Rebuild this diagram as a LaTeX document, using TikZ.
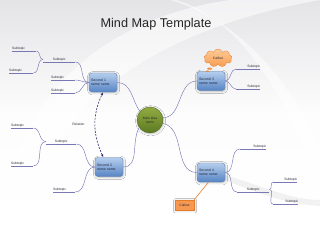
\documentclass[tikz,border=0pt]{standalone}
\usepackage{fontspec}
\setmainfont{Liberation Sans}
\usetikzlibrary{
    arrows.meta,
    positioning,
    shapes.geometric,
    shapes.symbols,
    shapes.callouts,
    shadows.blur
}
\definecolor{ink}{RGB}{40,40,55}
\definecolor{paper}{RGB}{228,228,231}
\definecolor{branch}{RGB}{122,120,180}
\definecolor{boxtop}{RGB}{182,206,238}
\definecolor{boxbot}{RGB}{86,132,196}
\definecolor{boxline}{RGB}{96,126,174}
\definecolor{ideatop}{RGB}{146,172,66}
\definecolor{ideabot}{RGB}{92,122,34}
\definecolor{idealine}{RGB}{78,100,30}
\definecolor{calltop}{RGB}{253,204,150}
\definecolor{callbot}{RGB}{246,142,62}
\definecolor{callline}{RGB}{228,124,44}
\definecolor{relink}{RGB}{46,46,112}
\tikzset{
    line cap=round,
    line join=round,
    pop/.style={
        blur shadow={shadow blur steps=4, shadow xshift=0.6pt, shadow yshift=-0.8pt, shadow opacity=25}
    },
    title/.style={
        font=\fontsize{12.7}{15}\selectfont,
        text=black!85
    },
    idea/.style={
        circle,
        draw=idealine,
        line width=0.4pt,
        top color=ideatop,
        bottom color=ideabot,
        minimum size=26pt,
        inner sep=0pt,
        align=center,
        font=\fontsize{3.3}{4}\selectfont,
        text=ink,
        pop
    },
    second/.style={
        rectangle,
        rounded corners=3pt,
        draw=boxline,
        line width=0.4pt,
        top color=boxtop,
        bottom color=boxbot,
        minimum width=28pt,
        minimum height=19pt,
        text width=24pt,
        inner sep=1.5pt,
        align=left,
        font=\fontsize{3.5}{4.3}\selectfont,
        text=ink,
        pop
    },
    sub/.style={
        font=\fontsize{3.3}{4}\selectfont,
        text=ink,
        inner xsep=0pt,
        inner ysep=0.7pt
    },
    lsub/.style={sub, text width=#1, align=left},
    rsub/.style={sub, text width=#1, align=right},
    msub/.style={sub, text width=#1, align=center},
    link/.style={
        draw=branch,
        line width=0.45pt
    },
    relation/.style={
        {Latex[length=3pt,width=2.6pt]}-{Latex[length=3pt,width=2.6pt]},
        draw=relink,
        dash pattern=on 2pt off 1.3pt,
        line width=0.6pt
    },
    cloudbox/.style={
        cloud callout,
        cloud puffs=9,
        aspect=1.5,
        draw=callline,
        line width=0.3pt,
        top color=calltop,
        bottom color=callbot,
        minimum width=28pt,
        minimum height=18pt,
        inner sep=0pt,
        font=\fontsize{3.3}{4}\selectfont,
        text=ink
    },
    notebox/.style={
        rectangle,
        draw=callline,
        line width=0.3pt,
        fill=callbot!90!white,
        minimum width=19pt,
        minimum height=10pt,
        inner sep=0pt,
        font=\fontsize{3.3}{4}\selectfont,
        text=ink,
        pop
    },
    notelink/.style={
        draw=callline,
        line width=0.6pt
    },
    annot/.style={
        font=\fontsize{3.3}{4}\selectfont,
        text=ink
    }
}
\begin{document}
\begin{tikzpicture}[x=1pt, y=1pt]
\useasboundingbox (0,0) rectangle (320,-227);

% background with soft swooshes
\shade[top color=paper, bottom color=white, middle color=white!92!paper] (0,0) rectangle (320,-227);
\fill[white, opacity=0.55] (0,-227) .. controls (10,-110) and (90,-20) .. (230,0) -- (320,0)
    .. controls (150,-30) and (40,-110) .. (30,-227) -- cycle;
\fill[white, opacity=0.5] (120,0) .. controls (230,30) and (300,-120) .. (320,-200) -- (320,-150)
    .. controls (290,-80) and (240,-20) .. (170,0) -- cycle;
\fill[black, opacity=0.05] (225,-175) .. controls (260,-185) and (290,-200) .. (320,-200) -- (320,-206)
    .. controls (285,-204) and (255,-192) .. (225,-180) -- cycle;

% title
\node[title] (head) at (156,-24) {Mind Map Template};

% main idea and second level
\node[idea] (main) at (150,-120) {Main Idea\\name};
\node[second] (s1) at (103,-82.5) {Second 1\\name name};
\node[second] (s2) at (109,-167) {Second 2\\name name};
\node[second] (s3) at (211,-81) {Second 3\\name name};
\node[second] (s4) at (211,-172.5) {Second 4\\name name};

\draw[link] (main.140) to[out=125, in=0] (s1.east);
\draw[link] (main.215) to[out=240, in=0] (s2.east);
\draw[link] (main.10) to[out=0, in=180] (s3.west);
\draw[link] (main.-15) to[out=-10, in=180] (s4.west);

% subtopics, left side
\node[msub=32pt, anchor=south west] (t11) at (43,-62) {Subtopic};
\node[lsub=24pt, anchor=south west] (t12) at (51,-80) {Subtopic};
\node[lsub=24pt, anchor=south west] (t13) at (51,-93) {Subtopic};
\node[lsub=24pt, anchor=south west] (t111) at (12,-51) {Subtopic};
\node[lsub=24pt, anchor=south west] (t112) at (9,-73) {Subtopic};
\node[msub=30pt, anchor=south west] (t21) at (46,-144) {Subtopic};
\node[lsub=22pt, anchor=south west] (t22) at (53,-192) {Subtopic};
\node[lsub=22pt, anchor=south west] (t211) at (11,-128) {Subtopic};
\node[lsub=22pt, anchor=south west] (t212) at (11,-166) {Subtopic};

% subtopics, right side
\node[rsub=24pt, anchor=south west] (t31) at (236,-69) {Subtopic};
\node[rsub=24pt, anchor=south west] (t32) at (236,-89) {Subtopic};
\node[rsub=26pt, anchor=south west] (t41) at (240,-149) {Subtopic};
\node[msub=32pt, anchor=south west] (t42) at (237,-192) {Subtopic};
\node[rsub=24pt, anchor=south west] (t421) at (273,-182) {Subtopic};
\node[rsub=25pt, anchor=south west] (t422) at (273,-204) {Subtopic};

% underlines
\foreach \t in {t11,t12,t13,t111,t112,t21,t22,t211,t212,t31,t32,t41,t42,t421,t422}
    \draw[link] (\t.south west) -- (\t.south east);

% branches
\foreach \p/\c in {s1/t11, s1/t12, s1/t13, t11/t111, t11/t112, s2/t21, s2/t22, t21/t211, t21/t212}
    \draw[link] (\p.west) to[out=180, in=0] (\c.south east);
\foreach \p/\c in {s3/t31, s3/t32, s4/t41, s4/t42, t42/t421, t42/t422}
    \draw[link] (\p.east) to[out=0, in=180] (\c.south west);

% relation
\draw[relation] (s2.120) to[out=115, in=245] (s1.south);
\node[annot, anchor=east] (rel) at (88,-124) {Relation};

% callouts
\node[cloudbox, callout absolute pointer={(s3.110)}] (c1) at (218,-58) {Callout};
\node[notebox] (c2) at (184.5,-205) {Callout};
\draw[notelink] (c2.north east) -- (s4.255);
\end{tikzpicture}
\end{document}
